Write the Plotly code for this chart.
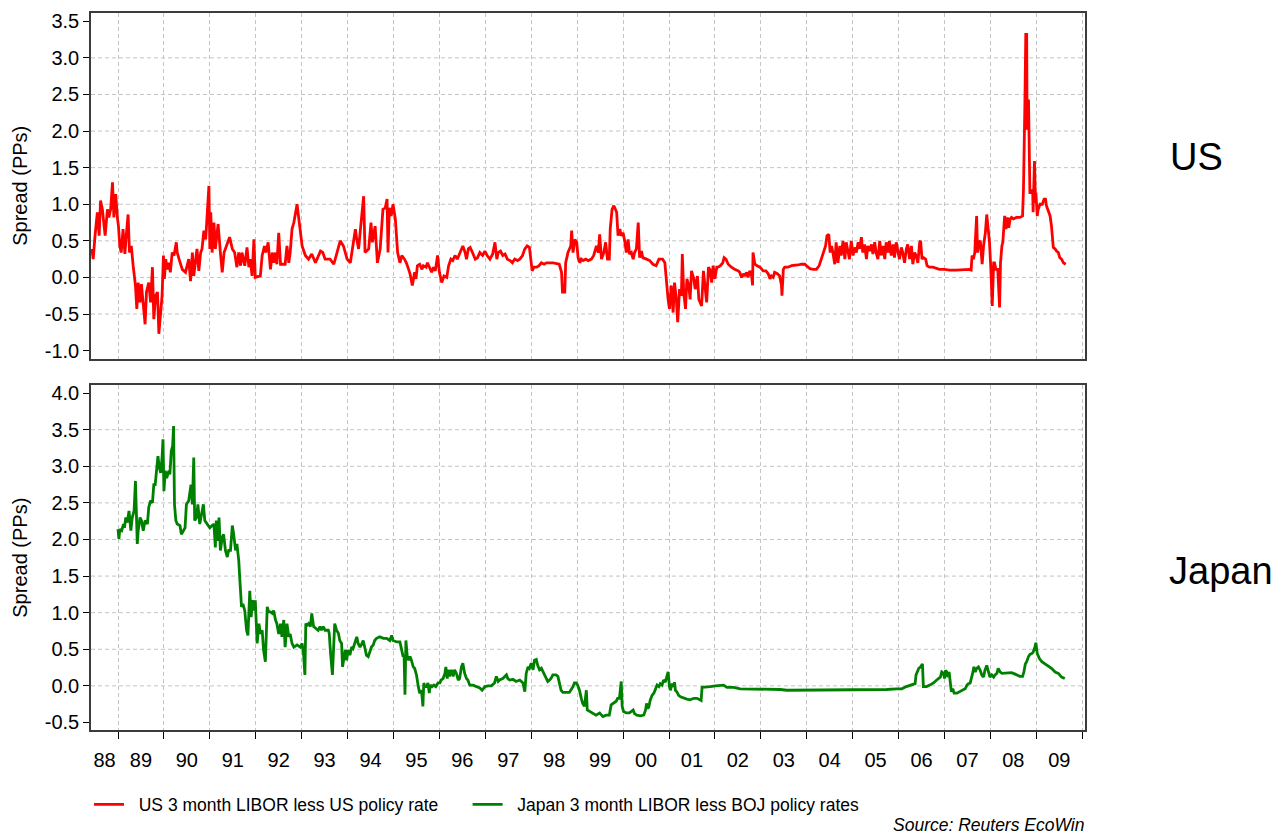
import plotly.graph_objects as go

# ---------------- data (decimal years, spread in percentage points) ----------------
us_year = [
    1988.43, 1988.46, 1988.50, 1988.55, 1988.59, 1988.62, 1988.66, 1988.72, 1988.77, 1988.80, 1988.84, 1988.88, 1988.91, 1988.95, 1988.99,
    1989.01, 1989.04, 1989.07, 1989.11, 1989.15, 1989.18, 1989.22, 1989.25, 1989.29, 1989.33, 1989.38, 1989.41, 1989.44, 1989.48, 1989.51, 1989.59, 1989.62, 1989.67, 1989.71, 1989.75, 1989.78, 1989.82, 1989.86, 1989.89, 1989.93, 1989.96, 1989.99,
    1990.01, 1990.04, 1990.07, 1990.11, 1990.14, 1990.18, 1990.22, 1990.27, 1990.29, 1990.33, 1990.40, 1990.47, 1990.51, 1990.54, 1990.58, 1990.62, 1990.65, 1990.69, 1990.72, 1990.76, 1990.80, 1990.83, 1990.87, 1990.91, 1990.98,
    1991.00, 1991.02, 1991.05, 1991.09, 1991.12, 1991.18, 1991.23, 1991.27, 1991.31, 1991.38, 1991.43, 1991.49, 1991.54, 1991.59, 1991.63, 1991.67, 1991.70, 1991.76, 1991.81, 1991.85, 1991.88, 1991.92, 1991.96, 1991.99,
    1992.10, 1992.14, 1992.19, 1992.22, 1992.27, 1992.32, 1992.36, 1992.39, 1992.43, 1992.46, 1992.50, 1992.54, 1992.64, 1992.68, 1992.72, 1992.75, 1992.79, 1992.83, 1992.90, 1992.93,
    1993.01, 1993.08, 1993.15, 1993.22, 1993.30, 1993.41, 1993.46, 1993.51, 1993.62, 1993.70, 1993.77, 1993.84, 1993.91, 1993.99,
    1994.06, 1994.09, 1994.17, 1994.20, 1994.24, 1994.28, 1994.35, 1994.38, 1994.46, 1994.51, 1994.54, 1994.60, 1994.65, 1994.71, 1994.77, 1994.82, 1994.86, 1994.88, 1994.91, 1994.95, 1994.99,
    1995.04, 1995.09, 1995.14, 1995.18, 1995.24, 1995.28, 1995.33, 1995.36, 1995.41, 1995.46, 1995.49, 1995.52, 1995.57, 1995.62, 1995.65, 1995.71, 1995.74, 1995.78, 1995.83, 1995.87, 1995.91, 1995.96,
    1996.00, 1996.05, 1996.10, 1996.16, 1996.20, 1996.25, 1996.29, 1996.34, 1996.39, 1996.45, 1996.51, 1996.56, 1996.59, 1996.63, 1996.67, 1996.72, 1996.78, 1996.83, 1996.88, 1996.94, 1996.99,
    1997.04, 1997.10, 1997.16, 1997.21, 1997.25, 1997.28, 1997.33, 1997.38, 1997.43, 1997.48, 1997.54, 1997.59, 1997.64, 1997.70, 1997.75, 1997.81, 1997.86, 1997.91, 1997.96, 1997.99,
    1998.02, 1998.06, 1998.12, 1998.17, 1998.22, 1998.28, 1998.33, 1998.48, 1998.61, 1998.66, 1998.68, 1998.73, 1998.75, 1998.80, 1998.86, 1998.88, 1998.91, 1998.95, 1998.99,
    1999.02, 1999.06, 1999.09, 1999.13, 1999.19, 1999.24, 1999.31, 1999.36, 1999.42, 1999.46, 1999.49, 1999.53, 1999.58, 1999.62, 1999.66, 1999.70, 1999.72, 1999.76, 1999.80, 1999.86, 1999.89, 1999.93, 1999.96,
    2000.00, 2000.04, 2000.07, 2000.11, 2000.14, 2000.18, 2000.22, 2000.25, 2000.29, 2000.33, 2000.36, 2000.40, 2000.43, 2000.51, 2000.58, 2000.65, 2000.72, 2000.78, 2000.86, 2000.91, 2000.94, 2000.98,
    2001.01, 2001.05, 2001.09, 2001.12, 2001.16, 2001.19, 2001.23, 2001.27, 2001.29, 2001.32, 2001.36, 2001.39, 2001.43, 2001.46, 2001.49, 2001.54, 2001.57, 2001.62, 2001.65, 2001.71, 2001.75, 2001.78, 2001.82, 2001.86, 2001.89, 2001.93, 2001.96,
    2002.00, 2002.04, 2002.07, 2002.12, 2002.17, 2002.20, 2002.24, 2002.29, 2002.36, 2002.43, 2002.51, 2002.54, 2002.58, 2002.62, 2002.65, 2002.69, 2002.72, 2002.76, 2002.80, 2002.82, 2002.83, 2002.87, 2002.92, 2002.98,
    2003.05, 2003.11, 2003.16, 2003.20, 2003.23, 2003.27, 2003.30, 2003.36, 2003.41, 2003.45, 2003.46, 2003.49, 2003.52, 2003.59, 2003.67, 2003.74, 2003.81, 2003.88, 2003.96,
    2004.01, 2004.07, 2004.14, 2004.21, 2004.27, 2004.32, 2004.37, 2004.41, 2004.44, 2004.48, 2004.51, 2004.54, 2004.57, 2004.61, 2004.64, 2004.68, 2004.72, 2004.75, 2004.79, 2004.83, 2004.86, 2004.90, 2004.93, 2004.97,
    2005.01, 2005.04, 2005.08, 2005.12, 2005.15, 2005.19, 2005.22, 2005.26, 2005.30, 2005.33, 2005.37, 2005.41, 2005.44, 2005.48, 2005.51, 2005.55, 2005.59, 2005.62, 2005.66, 2005.70, 2005.73, 2005.77, 2005.80, 2005.84, 2005.88, 2005.91, 2005.95, 2005.99,
    2006.02, 2006.06, 2006.09, 2006.13, 2006.17, 2006.20, 2006.24, 2006.28, 2006.31, 2006.35, 2006.38, 2006.42, 2006.46, 2006.48, 2006.51, 2006.54, 2006.59, 2006.62, 2006.67, 2006.75, 2006.82, 2006.89,
    2007.00, 2007.11, 2007.25, 2007.40, 2007.54, 2007.58, 2007.60, 2007.63, 2007.66, 2007.67, 2007.70, 2007.72, 2007.75, 2007.78, 2007.82, 2007.85, 2007.89, 2007.92, 2007.95, 2007.98,
    2008.01, 2008.04, 2008.07, 2008.09, 2008.12, 2008.16, 2008.20, 2008.22, 2008.25, 2008.27, 2008.29, 2008.31, 2008.34, 2008.37, 2008.40, 2008.43, 2008.46, 2008.50, 2008.57, 2008.64, 2008.70, 2008.72, 2008.75, 2008.77, 2008.79, 2008.80, 2008.83, 2008.85, 2008.86, 2008.90, 2008.92, 2008.93, 2008.96, 2008.98, 2008.99,
    2009.02, 2009.04, 2009.08, 2009.13, 2009.17, 2009.20, 2009.22, 2009.26, 2009.30, 2009.33, 2009.37, 2009.41, 2009.44, 2009.48, 2009.51, 2009.55, 2009.59, 2009.64,
]
us_spread = [
    0.39, 0.25, 0.57, 0.89, 0.57, 1.05, 0.93, 0.57, 0.93, 0.82, 0.93, 1.30, 0.82, 1.14, 0.80,
    0.70, 0.43, 0.34, 0.66, 0.32, 0.57, 0.86, 0.34, 0.43, 0.16, -0.11, -0.43, -0.07, -0.34, -0.09, -0.64, -0.20, -0.07, -0.34, 0.14, -0.57, -0.25, -0.20, -0.77, -0.52, -0.25, 0.30,
    -0.02, 0.25, 0.11, 0.20, 0.07, 0.34, 0.30, 0.48, 0.34, 0.25, 0.11, 0.07, 0.16, 0.25, -0.05, 0.34, 0.02, 0.20, 0.39, 0.09, 0.34, 0.39, 0.64, 0.52, 1.25,
    0.39, 0.89, 0.34, 0.75, 0.39, 0.73, 0.34, 0.07, 0.34, 0.48, 0.55, 0.39, 0.34, 0.14, 0.34, 0.16, 0.34, 0.16, 0.41, 0.14, 0.25, 0.02, 0.52, 0.00,
    0.02, 0.30, 0.43, 0.34, 0.48, 0.11, 0.34, 0.20, 0.34, 0.18, 0.61, 0.18, 0.18, 0.43, 0.20, 0.34, 0.66, 0.75, 1.00, 0.84,
    0.43, 0.30, 0.25, 0.32, 0.20, 0.36, 0.34, 0.25, 0.25, 0.18, 0.36, 0.50, 0.43, 0.25,
    0.20, 0.34, 0.66, 0.52, 0.39, 0.66, 1.11, 0.34, 0.39, 0.75, 0.48, 0.70, 0.20, 0.39, 0.93, 0.95, 1.07, 0.34, 0.95, 0.84, 1.00,
    0.80, 0.34, 0.20, 0.30, 0.25, 0.20, 0.11, 0.05, -0.11, 0.07, -0.02, 0.16, 0.18, 0.11, 0.16, 0.14, 0.20, 0.14, 0.07, 0.14, 0.09, 0.30,
    0.07, -0.07, 0.02, 0.00, 0.16, 0.25, 0.23, 0.30, 0.25, 0.34, 0.43, 0.34, 0.25, 0.39, 0.41, 0.34, 0.25, 0.27, 0.34, 0.30, 0.36,
    0.30, 0.25, 0.32, 0.48, 0.25, 0.34, 0.36, 0.30, 0.32, 0.25, 0.23, 0.20, 0.25, 0.23, 0.25, 0.30, 0.39, 0.43, 0.41, 0.25,
    0.09, 0.14, 0.14, 0.16, 0.20, 0.18, 0.20, 0.20, 0.18, 0.07, -0.20, -0.20, 0.20, 0.34, 0.43, 0.64, 0.34, 0.52, 0.48,
    0.27, 0.20, 0.25, 0.23, 0.25, 0.23, 0.25, 0.30, 0.43, 0.34, 0.59, 0.25, 0.34, 0.48, 0.25, 0.25, 0.66, 0.93, 0.98, 0.89, 0.57, 0.66, 0.57,
    0.61, 0.48, 0.34, 0.52, 0.32, 0.34, 0.25, 0.34, 0.39, 0.75, 0.27, 0.36, 0.27, 0.25, 0.23, 0.18, 0.16, 0.25, 0.25, 0.20, -0.07, -0.30,
    -0.43, -0.11, -0.48, -0.07, -0.30, -0.61, -0.16, -0.25, 0.32, -0.20, -0.43, -0.02, -0.11, -0.30, 0.09, -0.02, -0.16, 0.02, -0.30, -0.39, 0.09, -0.11, -0.34, 0.14, 0.11, -0.07, 0.16,
    -0.02, 0.14, 0.14, 0.16, 0.20, 0.27, 0.25, 0.18, 0.14, 0.11, 0.09, 0.07, 0.00, 0.05, 0.02, 0.07, 0.00, 0.09, 0.02, -0.11, 0.34, 0.18, 0.16, 0.14,
    0.09, 0.09, 0.05, -0.02, 0.02, 0.00, 0.07, 0.05, 0.02, -0.11, -0.25, 0.11, 0.14, 0.14, 0.16, 0.16, 0.17, 0.18, 0.18,
    0.15, 0.12, 0.11, 0.11, 0.16, 0.25, 0.34, 0.43, 0.57, 0.59, 0.34, 0.43, 0.34, 0.18, 0.48, 0.20, 0.43, 0.30, 0.50, 0.25, 0.48, 0.34, 0.25, 0.50,
    0.30, 0.41, 0.34, 0.48, 0.39, 0.55, 0.34, 0.45, 0.25, 0.43, 0.36, 0.45, 0.32, 0.48, 0.34, 0.25, 0.50, 0.30, 0.43, 0.25, 0.48, 0.34, 0.50, 0.30, 0.45, 0.27, 0.48, 0.34,
    0.25, 0.41, 0.34, 0.20, 0.39, 0.45, 0.25, 0.43, 0.18, 0.34, 0.30, 0.20, 0.48, 0.50, 0.25, 0.27, 0.25, 0.16, 0.14, 0.14, 0.12, 0.11,
    0.11, 0.10, 0.10, 0.11, 0.11, 0.10, 0.30, 0.25, 0.34, 0.48, 0.84, 0.34, 0.48, 0.50, 0.18, 0.43, 0.61, 0.86, 0.66, 0.48,
    0.11, -0.39, 0.20, 0.20, 0.11, 0.11, -0.41, 0.20, 0.43, 0.48, 0.66, 0.84, 0.66, 0.82, 0.68, 0.80, 0.82, 0.80, 0.82, 0.82, 0.84, 1.20, 2.34, 3.32, 3.32, 2.02, 2.43, 1.66, 1.16, 1.16, 1.20, 0.89, 1.59, 1.02, 1.16,
    0.84, 0.93, 1.00, 1.00, 1.07, 1.07, 0.98, 0.91, 0.84, 0.70, 0.41, 0.39, 0.36, 0.34, 0.27, 0.25, 0.20, 0.18,
]

jp_year = [
    1989.00, 1989.02, 1989.04, 1989.08, 1989.12, 1989.14, 1989.17, 1989.20, 1989.24, 1989.28, 1989.31, 1989.35, 1989.38, 1989.39, 1989.42, 1989.44, 1989.48, 1989.51, 1989.55, 1989.59, 1989.64, 1989.67, 1989.71, 1989.75, 1989.78, 1989.81, 1989.84, 1989.87, 1989.90, 1989.93, 1989.96, 1989.98,
    1990.00, 1990.03, 1990.06, 1990.11, 1990.13, 1990.16, 1990.19, 1990.21, 1990.23, 1990.26, 1990.29, 1990.35, 1990.38, 1990.42, 1990.46, 1990.49, 1990.54, 1990.59, 1990.62, 1990.65, 1990.67, 1990.71, 1990.74, 1990.78, 1990.82, 1990.86, 1990.89, 1990.94,
    1991.00, 1991.05, 1991.09, 1991.12, 1991.14, 1991.17, 1991.20, 1991.23, 1991.27, 1991.30, 1991.34, 1991.38, 1991.41, 1991.45, 1991.49, 1991.52, 1991.56, 1991.59, 1991.63, 1991.65, 1991.67, 1991.69, 1991.72, 1991.76, 1991.80, 1991.83, 1991.87, 1991.90, 1991.93, 1991.96, 1991.99,
    1992.03, 1992.07, 1992.10, 1992.14, 1992.17, 1992.21, 1992.23, 1992.25, 1992.28, 1992.32, 1992.36, 1992.39, 1992.43, 1992.46, 1992.50, 1992.54, 1992.57, 1992.61, 1992.64, 1992.68, 1992.72, 1992.75, 1992.79, 1992.83, 1992.90, 1992.97,
    1993.01, 1993.04, 1993.07, 1993.09, 1993.12, 1993.15, 1993.19, 1993.22, 1993.26, 1993.33, 1993.36, 1993.40, 1993.43, 1993.47, 1993.51, 1993.58, 1993.60, 1993.63, 1993.67, 1993.70, 1993.72, 1993.76, 1993.80, 1993.83, 1993.87, 1993.89, 1993.92, 1993.95, 1993.98,
    1994.01, 1994.05, 1994.09, 1994.12, 1994.16, 1994.20, 1994.23, 1994.27, 1994.30, 1994.34, 1994.38, 1994.41, 1994.45, 1994.49, 1994.52, 1994.56, 1994.59, 1994.63, 1994.70, 1994.78, 1994.85, 1994.92, 1994.96, 1994.99,
    1995.07, 1995.14, 1995.17, 1995.21, 1995.23, 1995.25, 1995.27, 1995.30, 1995.33, 1995.36, 1995.39, 1995.43, 1995.46, 1995.50, 1995.54, 1995.57, 1995.61, 1995.64, 1995.66, 1995.68, 1995.72, 1995.75, 1995.78, 1995.80, 1995.84, 1995.88, 1995.92, 1995.97,
    1996.01, 1996.04, 1996.08, 1996.12, 1996.14, 1996.17, 1996.19, 1996.22, 1996.26, 1996.30, 1996.33, 1996.37, 1996.41, 1996.44, 1996.48, 1996.51, 1996.55, 1996.59, 1996.62, 1996.66, 1996.73, 1996.80, 1996.88, 1996.93, 1996.99,
    1997.06, 1997.13, 1997.20, 1997.24, 1997.28, 1997.31, 1997.38, 1997.46, 1997.49, 1997.53, 1997.60, 1997.67, 1997.75, 1997.82, 1997.86, 1997.89, 1997.93, 1997.96,
    1998.00, 1998.04, 1998.07, 1998.11, 1998.14, 1998.18, 1998.22, 1998.25, 1998.29, 1998.33, 1998.36, 1998.40, 1998.43, 1998.47, 1998.54, 1998.58, 1998.62, 1998.65, 1998.69, 1998.76, 1998.83, 1998.86, 1998.91, 1998.94, 1998.98,
    1999.01, 1999.05, 1999.09, 1999.12, 1999.16, 1999.20, 1999.22, 1999.27, 1999.34, 1999.41, 1999.49, 1999.56, 1999.63, 1999.70, 1999.74, 1999.78, 1999.85, 1999.88, 1999.92, 1999.96, 1999.98,
    2000.01, 2000.07, 2000.14, 2000.22, 2000.25, 2000.30, 2000.38, 2000.45, 2000.49, 2000.51, 2000.54, 2000.56, 2000.59, 2000.63, 2000.67, 2000.70, 2000.74, 2000.78, 2000.81, 2000.85, 2000.88, 2000.92, 2000.96, 2000.98,
    2001.01, 2001.03, 2001.07, 2001.10, 2001.12, 2001.14, 2001.17, 2001.21, 2001.25, 2001.32, 2001.39, 2001.46, 2001.54, 2001.61, 2001.68, 2001.70, 2001.72, 2001.79, 2001.90,
    2002.01, 2002.12, 2002.19, 2002.26, 2002.41, 2002.55, 2002.70, 2002.84, 2002.99, 2003.20, 2003.42, 2003.57, 2003.93, 2004.29, 2004.65, 2005.01, 2005.38, 2005.74, 2005.96, 2006.07, 2006.17, 2006.25, 2006.32, 2006.36, 2006.38, 2006.41, 2006.44, 2006.48, 2006.52, 2006.54, 2006.61, 2006.68, 2006.76, 2006.83, 2006.87, 2006.91, 2006.94, 2006.98,
    2007.00, 2007.02, 2007.05, 2007.07, 2007.10, 2007.13, 2007.15, 2007.18, 2007.21, 2007.27, 2007.34, 2007.41, 2007.45, 2007.49, 2007.52, 2007.56, 2007.59, 2007.62, 2007.64, 2007.67, 2007.70, 2007.74, 2007.78, 2007.81, 2007.85, 2007.88, 2007.92, 2007.96, 2007.99,
    2008.03, 2008.07, 2008.10, 2008.14, 2008.17, 2008.21, 2008.25, 2008.32, 2008.39, 2008.46, 2008.54, 2008.57, 2008.64, 2008.70, 2008.73, 2008.76, 2008.79, 2008.83, 2008.86, 2008.90, 2008.93, 2008.97, 2008.99, 2009.02, 2009.07, 2009.12, 2009.19, 2009.26, 2009.33, 2009.41, 2009.48, 2009.55, 2009.62,
]
jp_spread = [
    2.14, 2.01, 2.14, 2.12, 2.21, 2.16, 2.30, 2.23, 2.39, 2.12, 2.30, 2.39, 2.80, 2.48, 1.94, 2.12, 2.30, 2.26, 2.12, 2.26, 2.21, 2.44, 2.53, 2.50, 2.75, 2.75, 2.94, 3.14, 2.98, 2.91, 3.12, 3.37,
    2.66, 2.94, 2.84, 2.94, 2.89, 3.21, 3.28, 3.55, 2.48, 2.26, 2.21, 2.19, 2.07, 2.12, 2.16, 2.48, 2.53, 2.75, 2.48, 3.12, 2.26, 2.30, 2.48, 2.21, 2.35, 2.48, 2.26, 2.21,
    2.16, 2.19, 2.21, 1.89, 2.26, 1.98, 2.30, 1.85, 2.03, 2.07, 1.85, 1.76, 1.85, 1.85, 2.19, 2.07, 1.85, 1.94, 1.71, 1.49, 1.26, 1.08, 1.12, 1.03, 0.76, 0.69, 1.30, 0.94, 1.17, 1.03, 1.17,
    0.58, 0.85, 0.71, 0.76, 0.49, 0.33, 0.62, 1.08, 1.01, 1.01, 0.99, 1.03, 0.90, 0.85, 0.71, 0.85, 0.67, 0.90, 0.53, 0.85, 0.67, 0.71, 0.58, 0.53, 0.56, 0.53,
    0.58, 0.44, 0.15, 0.85, 0.83, 0.85, 0.81, 0.99, 0.81, 0.78, 0.76, 0.81, 0.76, 0.81, 0.76, 0.76, 0.72, 0.44, 0.15, 0.58, 0.85, 0.76, 0.72, 0.62, 0.58, 0.26, 0.40, 0.49, 0.35,
    0.49, 0.42, 0.53, 0.51, 0.60, 0.67, 0.58, 0.53, 0.56, 0.62, 0.51, 0.42, 0.40, 0.47, 0.53, 0.56, 0.62, 0.65, 0.67, 0.65, 0.65, 0.62, 0.69, 0.62,
    0.60, 0.60, 0.51, 0.40, 0.42, -0.12, 0.62, 0.40, 0.35, 0.40, 0.35, 0.26, 0.24, 0.15, -0.01, -0.10, -0.06, -0.28, 0.04, -0.01, -0.01, 0.04, -0.10, 0.01, -0.01, 0.01, -0.01, 0.04,
    0.04, 0.08, 0.10, 0.17, 0.26, 0.10, 0.22, 0.13, 0.22, 0.13, 0.22, 0.17, 0.08, 0.10, 0.26, 0.31, 0.17, 0.10, 0.08, 0.01, 0.01, -0.01, -0.03, -0.06, -0.01,
    0.00, 0.00, 0.04, 0.13, 0.06, 0.08, 0.10, 0.15, 0.10, 0.08, 0.09, 0.06, 0.08, 0.04, -0.08, 0.17, 0.26, 0.24,
    0.31, 0.22, 0.35, 0.36, 0.28, 0.22, 0.24, 0.19, 0.15, 0.10, 0.06, 0.08, 0.10, 0.15, 0.15, 0.13, 0.04, -0.06, -0.09, -0.09, -0.09, -0.06, -0.01, 0.04, 0.04,
    0.01, -0.06, -0.17, -0.24, -0.28, -0.06, -0.33, -0.35, -0.37, -0.40, -0.37, -0.42, -0.40, -0.40, -0.26, -0.24, -0.21, -0.17, -0.17, 0.06, -0.28,
    -0.35, -0.37, -0.37, -0.33, -0.38, -0.40, -0.41, -0.40, -0.33, -0.24, -0.31, -0.29, -0.20, -0.13, -0.10, -0.06, 0.01, -0.01, 0.03, 0.01, 0.08, 0.05, 0.17, 0.19,
    -0.01, -0.06, 0.03, -0.01, 0.05, -0.06, -0.08, -0.13, -0.15, -0.17, -0.18, -0.19, -0.17, -0.17, -0.20, -0.20, -0.02, -0.02, -0.01,
    0.00, 0.00, 0.01, -0.02, -0.02, -0.04, -0.04, -0.05, -0.05, -0.05, -0.05, -0.06, -0.06, -0.06, -0.05, -0.05, -0.05, -0.05, -0.04, -0.04, -0.01, 0.01, 0.02, 0.03, 0.15, 0.21, 0.24, 0.26, 0.30, -0.01, -0.01, 0.01, 0.04, 0.08, 0.10, 0.12, 0.19, 0.17,
    0.10, 0.21, 0.19, 0.12, 0.19, 0.05, -0.08, -0.04, -0.10, -0.10, -0.08, -0.06, -0.04, 0.01, 0.03, 0.04, 0.10, 0.19, 0.26, 0.19, 0.24, 0.26, 0.21, 0.15, 0.12, 0.21, 0.28, 0.19, 0.12,
    0.15, 0.12, 0.15, 0.17, 0.24, 0.19, 0.17, 0.17, 0.17, 0.18, 0.16, 0.15, 0.13, 0.13, 0.19, 0.30, 0.33, 0.40, 0.43, 0.44, 0.46, 0.53, 0.59, 0.44, 0.37, 0.33, 0.30, 0.26, 0.24, 0.19, 0.17, 0.12, 0.10,
]

year_labels = ["88", "89", "90", "91", "92", "93", "94", "95", "96", "97", "98",
               "99", "00", "01", "02", "03", "04", "05", "06", "07", "08", "09"]
first_full_year = 1989
x_range = [1988.412, 2010.06]

us_ticks = [-1.0, -0.5, 0.0, 0.5, 1.0, 1.5, 2.0, 2.5, 3.0, 3.5]
jp_ticks = [-0.5, 0.0, 0.5, 1.0, 1.5, 2.0, 2.5, 3.0, 3.5, 4.0]
us_range = [-1.109, 3.613]
jp_range = [-0.603, 4.105]

us_name = "US 3 month LIBOR less US policy rate"
jp_name = "Japan 3 month LIBOR less BOJ policy rates"

# ---------------- styling ----------------
FONT = "Liberation Sans, Arial, Helvetica, sans-serif"
GRID = "#c4c4c4"
BORDER = "#3c3c3c"
DASH = "4px,3px"
NB = "\u00a0"

label_pos = [(x_range[0] + first_full_year) / 2] + [first_full_year + i + 0.5 for i in range(len(year_labels) - 1)]


def fmt(v):
    return "%.1f" % v


fig = go.Figure()
fig.add_trace(go.Scatter(x=us_year, y=us_spread, mode="lines", name=NB * 2 + us_name + NB * 5,
                         line=dict(color="#ff0000", width=2.8), xaxis="x", yaxis="y"))
fig.add_trace(go.Scatter(x=jp_year, y=jp_spread, mode="lines", name=NB * 2 + jp_name,
                         line=dict(color="#008000", width=2.8), xaxis="x2", yaxis="y2"))

minor_grid = dict(tickmode="linear", tick0=first_full_year, dtick=1, showgrid=True,
                  gridcolor=GRID, griddash=DASH, gridwidth=1)

common_x = dict(range=x_range, tickmode="array", tickvals=label_pos, ticktext=year_labels,
                showgrid=False, zeroline=False, showline=True, mirror=True,
                linecolor=BORDER, linewidth=1.5, tickfont=dict(size=20, color="black"))

common_y = dict(tickmode="array", showgrid=False, zeroline=False, showline=True, mirror=True,
                linecolor=BORDER, linewidth=1.5, ticks="outside", ticklen=6, tickcolor="black",
                tickwidth=1, tickfont=dict(size=20, color="black"),
                title=dict(text="Spread (PPs)", font=dict(size=20, color="black"), standoff=12))

top_dom = [0.518, 1.0]
bot_dom = [0.0, 0.4806]

fig.update_layout(
    xaxis=dict(common_x, domain=[0, 1], anchor="y", showticklabels=False, ticks="",
               minor=dict(minor_grid, ticks="")),
    xaxis2=dict(common_x, domain=[0, 1], anchor="y2", matches="x", showticklabels=True,
                ticks="outside", ticklen=11, tickcolor="rgba(0,0,0,0)",
                minor=dict(minor_grid, ticks="outside", ticklen=7, tickcolor="black", tickwidth=1)),
    yaxis=dict(common_y, domain=top_dom, anchor="x", range=us_range,
               tickvals=us_ticks, ticktext=[fmt(v) for v in us_ticks]),
    yaxis2=dict(common_y, domain=bot_dom, anchor="x2", range=jp_range,
                tickvals=jp_ticks, ticktext=[fmt(v) for v in jp_ticks]),
)

shapes = []
for v in us_ticks[1:-1]:
    shapes.append(dict(type="line", xref="x domain", x0=0, x1=1, yref="y", y0=v, y1=v,
                       line=dict(color=GRID, width=1, dash=DASH), layer="below"))
for v in jp_ticks[1:-1]:
    shapes.append(dict(type="line", xref="x2 domain", x0=0, x1=1, yref="y2", y0=v, y1=v,
                       line=dict(color=GRID, width=1, dash=DASH), layer="below"))

annotations = [
    dict(text="US", xref="paper", yref="paper", x=1.112, y=0.799, showarrow=False,
         xanchor="center", yanchor="middle", font=dict(size=38, color="black")),
    dict(text="Japan", xref="paper", yref="paper", x=1.137, y=0.222, showarrow=False,
         xanchor="center", yanchor="middle", font=dict(size=38, color="black")),
    dict(text="<i>Source: Reuters EcoWin</i>", xref="paper", yref="paper", x=1.001, y=-0.133,
         showarrow=False, xanchor="right", yanchor="middle", font=dict(size=17.5, color="black")),
]

fig.update_layout(
    width=1283, height=835,
    margin=dict(l=91, r=198, t=10, b=105),
    paper_bgcolor="white", plot_bgcolor="white",
    font=dict(family=FONT, color="black"),
    shapes=shapes, annotations=annotations,
    showlegend=True,
    legend=dict(orientation="h", x=-0.002, y=-0.104, xanchor="left", yanchor="middle",
                font=dict(size=17.5, color="black"), bgcolor="rgba(0,0,0,0)",
                itemwidth=30),
)

fig.write_html("out.html", config={"displayModeBar": False},
               post_script="document.body.style.margin='0';document.body.style.padding='0';")
